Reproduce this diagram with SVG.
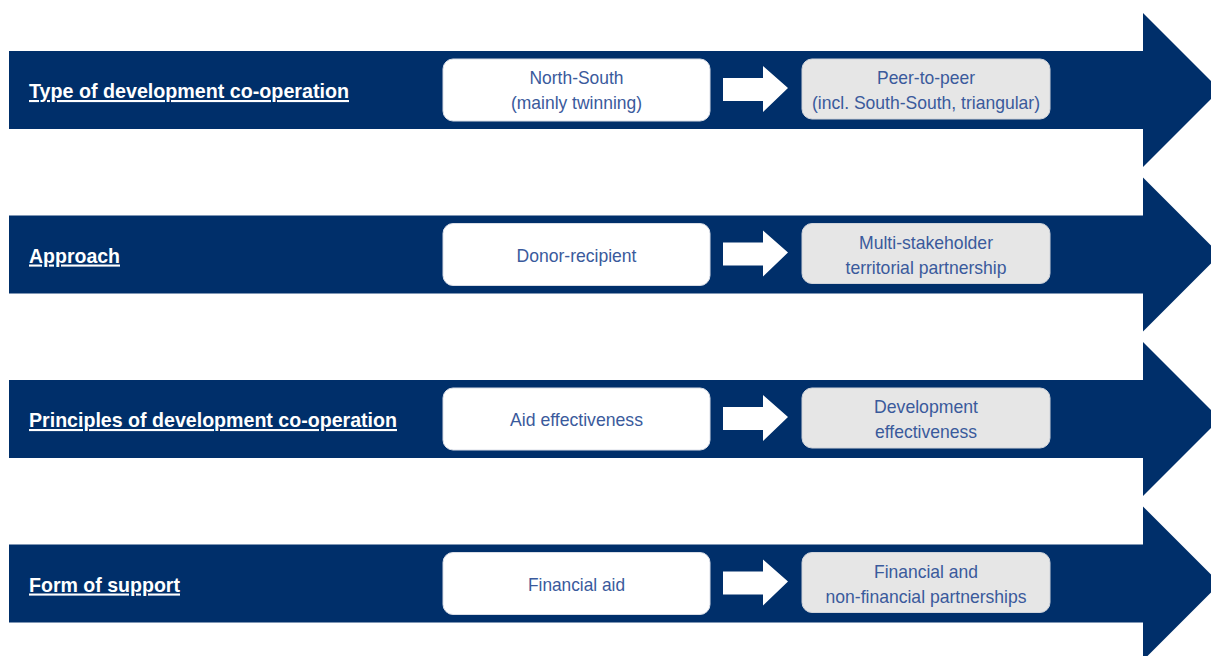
<svg xmlns="http://www.w3.org/2000/svg" width="1211" height="656" viewBox="0 0 1211 656">
  <defs>
    <style>
      .band { fill: #002f6a; }
      .label { font-family: "Liberation Sans Narrow", "Arial Narrow", "Liberation Sans", sans-serif; font-weight: bold; font-size: 21px; fill: #ffffff; text-decoration: underline; }
      .from { fill: #ffffff; stroke: #d9dde6; stroke-width: 1; }
      .to { fill: #e6e6e6; stroke: #cfd3da; stroke-width: 1; }
      .txt { font-family: "Liberation Sans Narrow", "Arial Narrow", "Liberation Sans", sans-serif; font-size: 18.5px; fill: #3a5a9c; text-anchor: middle; }
      .step { fill: #ffffff; }
    </style>
    <!-- one big band arrow, centred on y=0 -->
    <path id="band" d="M9,-39 H1143 V-77 L1220,0 L1143,77 V39 H9 Z"/>
    <!-- small white arrow between the boxes, centred on y=0 -->
    <path id="step" d="M723,-12 H763 V-24 L788,-2 L763,22 V11 H723 Z"/>
  </defs>

  <g id="row1" transform="translate(0,90)">
    <use href="#band" class="band"/>
    <text class="label" x="29" y="8" textLength="320" lengthAdjust="spacingAndGlyphs">Type of development co-operation</text>
    <rect class="from" x="443" y="-31" width="267" height="62" rx="10"/>
    <text class="txt" x="576.5" y="-6" textLength="94" lengthAdjust="spacingAndGlyphs">North-South</text>
    <text class="txt" x="576.5" y="19" textLength="131" lengthAdjust="spacingAndGlyphs">(mainly twinning)</text>
    <use href="#step" class="step"/>
    <rect class="to" x="802" y="-31" width="248" height="60" rx="10"/>
    <text class="txt" x="926" y="-6" textLength="98" lengthAdjust="spacingAndGlyphs">Peer-to-peer</text>
    <text class="txt" x="926" y="19" textLength="228" lengthAdjust="spacingAndGlyphs">(incl. South-South, triangular)</text>
  </g>

  <g id="row2" transform="translate(0,254.5)">
    <use href="#band" class="band"/>
    <text class="label" x="29" y="8" textLength="91" lengthAdjust="spacingAndGlyphs">Approach</text>
    <rect class="from" x="443" y="-31" width="267" height="62" rx="10"/>
    <text class="txt" x="576.5" y="7" textLength="120" lengthAdjust="spacingAndGlyphs">Donor-recipient</text>
    <use href="#step" class="step"/>
    <rect class="to" x="802" y="-31" width="248" height="60" rx="10"/>
    <text class="txt" x="926" y="-6" textLength="134" lengthAdjust="spacingAndGlyphs">Multi-stakeholder</text>
    <text class="txt" x="926" y="19" textLength="161" lengthAdjust="spacingAndGlyphs">territorial partnership</text>
  </g>

  <g id="row3" transform="translate(0,419)">
    <use href="#band" class="band"/>
    <text class="label" x="29" y="8" textLength="368" lengthAdjust="spacingAndGlyphs">Principles of development co-operation</text>
    <rect class="from" x="443" y="-31" width="267" height="62" rx="10"/>
    <text class="txt" x="576.5" y="7" textLength="133" lengthAdjust="spacingAndGlyphs">Aid effectiveness</text>
    <use href="#step" class="step"/>
    <rect class="to" x="802" y="-31" width="248" height="60" rx="10"/>
    <text class="txt" x="926" y="-6" textLength="104" lengthAdjust="spacingAndGlyphs">Development</text>
    <text class="txt" x="926" y="19" textLength="102" lengthAdjust="spacingAndGlyphs">effectiveness</text>
  </g>

  <g id="row4" transform="translate(0,583.5)">
    <use href="#band" class="band"/>
    <text class="label" x="29" y="8" textLength="151" lengthAdjust="spacingAndGlyphs">Form of support</text>
    <rect class="from" x="443" y="-31" width="267" height="62" rx="10"/>
    <text class="txt" x="576.5" y="7" textLength="97" lengthAdjust="spacingAndGlyphs">Financial aid</text>
    <use href="#step" class="step"/>
    <rect class="to" x="802" y="-31" width="248" height="60" rx="10"/>
    <text class="txt" x="926" y="-6" textLength="104" lengthAdjust="spacingAndGlyphs">Financial and</text>
    <text class="txt" x="926" y="19" textLength="201" lengthAdjust="spacingAndGlyphs">non-financial partnerships</text>
  </g>
</svg>
